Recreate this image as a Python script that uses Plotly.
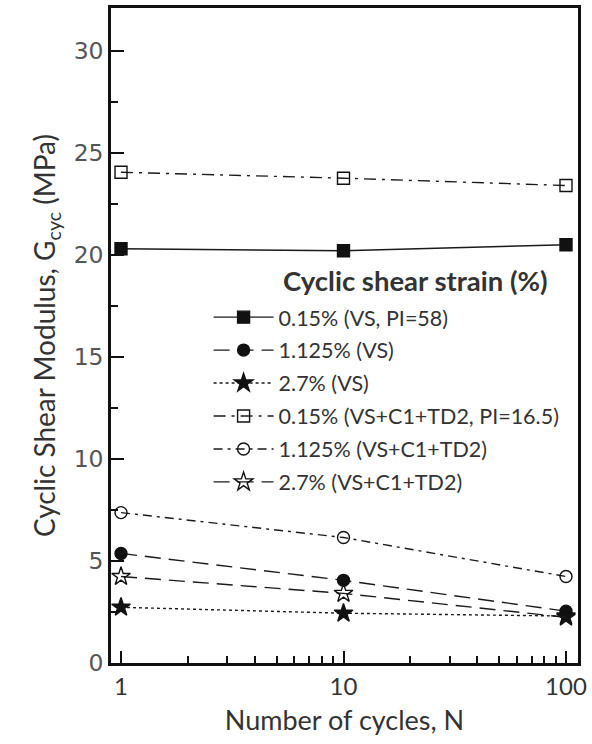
import plotly.graph_objects as go

cycles = [1, 10, 100]
names = ["0.15% (VS, PI=58)", "1.125% (VS)", "2.7% (VS)",
         "0.15% (VS+C1+TD2, PI=16.5)", "1.125% (VS+C1+TD2)", "2.7% (VS+C1+TD2)"]
g_vs_015 = [20.3, 20.2, 20.5]
g_vs_1125 = [5.37, 4.05, 2.54]
g_vs_27 = [2.73, 2.44, 2.3]
g_mix_015 = [24.05, 23.76, 23.4]
g_mix_1125 = [7.37, 6.15, 4.24]
g_mix_27 = [4.24, 3.41, 2.24]
series = [g_vs_015, g_vs_1125, g_vs_27, g_mix_015, g_mix_1125, g_mix_27]
legend_title = "Cyclic shear strain (%)"
major_x = [1, 10, 100]
minor_x = [2, 3, 4, 5, 6, 7, 8, 9, 20, 30, 40, 50, 60, 70, 80, 90]
all_x = sorted(major_x + minor_x)
all_x_text = [str(v) if v in major_x else "" for v in all_x]

symbols = ["square", "circle", "star", "square-open", "circle-open", "star-open"]
dashes = ["solid", "16px,8px", "3px,3px", "12px,6px,3px,6px", "9px,5px,3px,5px", "16px,8px"]
sizes = [12, 12, 14, 12, 12, 14]

fig = go.Figure()
for i, (n, s, sym, d, sz) in enumerate(zip(names, series, symbols, dashes, sizes)):
    fig.add_trace(go.Scatter(
        x=cycles, y=s, name=n, mode="lines+markers", legendgroup=f"g{i}",
        line=dict(color="#1a1a1a", width=1.4, dash=d),
        marker=dict(symbol=sym, size=sz, color="#111111",
                    line=dict(color="#111111", width=1.4)),
    ))
# invisible carrier trace so the long major-tick axis is drawn
fig.add_trace(go.Scatter(x=cycles, y=g_vs_015, xaxis="x2", yaxis="y", mode="markers",
                         marker=dict(opacity=0, size=1), showlegend=False, hoverinfo="skip"))

fig.add_annotation(
    text=f"<b>{legend_title}</b>", xref="paper", yref="paper",
    x=(282 - 111) / 469, y=(663 - 279) / 658, xanchor="left", yanchor="middle",
    showarrow=False, font=dict(family="Lato", size=27.5, color="#333333"),
)

fig.update_layout(
    width=592, height=744,
    margin=dict(l=111, r=12, t=5, b=81),
    paper_bgcolor="white", plot_bgcolor="white",
    font=dict(family="Lato", color="#333333"),
    showlegend=True,
    legend=dict(
        x=(209 - 111) / 469, y=(663 - 295) / 658, xanchor="left", yanchor="top",
        bgcolor="rgba(0,0,0,0)",
        font=dict(family="Lato", size=21.5, color="#333333"),
        tracegroupgap=2, itemwidth=60,
    ),
    xaxis=dict(
        type="log", range=[-0.045, 2.054],
        tickvals=all_x, ticktext=all_x_text,
        ticks="inside", ticklen=7, tickwidth=1.6, tickcolor="#111111",
        showline=True, linecolor="#111111", linewidth=2.5, mirror=True,
        showgrid=False, zeroline=False,
        tickfont=dict(family="Lato", size=24, color="#333333"),
        title=dict(text="Number of cycles, N", font=dict(family="Lato", size=27, color="#333333"), standoff=13),
    ),
    xaxis2=dict(
        type="log", range=[-0.045, 2.054], overlaying="x", side="bottom",
        tickvals=major_x,
        ticks="inside", ticklen=12, tickwidth=2, tickcolor="#111111",
        showline=False, showgrid=False, zeroline=False, showticklabels=False,
    ),
    yaxis=dict(
        range=[0, 32.1],
        tickvals=[0, 5, 10, 15, 20, 25, 30],
        ticks="inside", ticklen=13, tickwidth=2, tickcolor="#111111",
        minor=dict(ticks="inside", ticklen=7, tickwidth=2, tickcolor="#111111", dtick=2.5, showgrid=False),
        showline=True, linecolor="#111111", linewidth=2.5, mirror=True,
        showgrid=False, zeroline=False,
        tickfont=dict(family="DejaVu Sans", size=23.5, color="#555555"),
        title=dict(text="Cyclic Shear Modulus, G<sub>cyc</sub> (MPa)", font=dict(family="Lato", size=28, color="#333333"), standoff=10),
    ),
)
fig.write_html("out.html")
